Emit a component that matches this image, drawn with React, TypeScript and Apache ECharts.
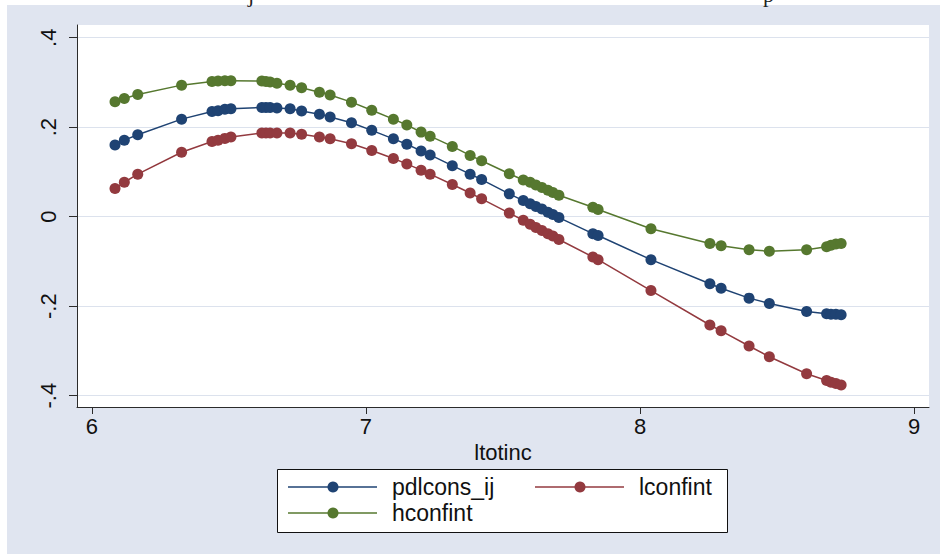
import { useEffect, useRef } from "react";
import * as echarts from "echarts";

// ---- data ----
const xValues = [
  6.084, 6.118, 6.167, 6.327, 6.438, 6.46, 6.485, 6.507, 6.62, 6.635, 6.65, 6.675,
  6.723, 6.765, 6.83, 6.869, 6.947, 7.021, 7.1, 7.149, 7.201, 7.234, 7.315, 7.38,
  7.422, 7.523, 7.574, 7.599, 7.62, 7.642, 7.664, 7.682, 7.704, 7.828, 7.847, 8.04,
  8.255, 8.296, 8.398, 8.472, 8.608, 8.681, 8.697, 8.715, 8.734,
];
const pdlcons = [
  0.16, 0.171, 0.183, 0.218, 0.235, 0.237, 0.24, 0.241, 0.244, 0.244, 0.244, 0.243,
  0.241, 0.236, 0.229, 0.223, 0.21, 0.193, 0.174, 0.162, 0.147, 0.138, 0.114, 0.095,
  0.083, 0.051, 0.036, 0.029, 0.023, 0.017, 0.01, 0.005, -0.002, -0.038, -0.042, -0.096,
  -0.15, -0.16, -0.182, -0.194, -0.212, -0.217, -0.218, -0.218, -0.219,
];
const lconfint = [
  0.063, 0.077, 0.095, 0.144, 0.168, 0.171, 0.175, 0.178, 0.187, 0.187, 0.187, 0.187,
  0.187, 0.184, 0.178, 0.174, 0.163, 0.148, 0.13, 0.118, 0.104, 0.095, 0.072, 0.053,
  0.04, 0.008, -0.008, -0.017, -0.024, -0.031, -0.038, -0.043, -0.051, -0.09, -0.096, -0.165,
  -0.242, -0.255, -0.289, -0.313, -0.351, -0.366, -0.37, -0.373, -0.376,
];
const hconfint = [
  0.257, 0.264, 0.273, 0.294, 0.302, 0.303, 0.304, 0.304, 0.303, 0.302, 0.301, 0.298,
  0.294, 0.288, 0.278, 0.272, 0.256, 0.238, 0.218, 0.205, 0.189, 0.18, 0.157, 0.137,
  0.125, 0.096, 0.082, 0.077, 0.071, 0.065, 0.059, 0.054, 0.048, 0.021, 0.016, -0.027,
  -0.06, -0.065, -0.074, -0.077, -0.074, -0.067, -0.064, -0.061, -0.06,
];
const seriesNames = ["pdlcons_ij", "lconfint", "hconfint"];
const seriesColors = ["#1f4373", "#933a3f", "#56782f"];
const xTicks = [6, 7, 8, 9];
const yTicks = [-0.4, -0.2, 0, 0.2, 0.4];
const xTitle = "ltotinc";
const topFragments = ["j", "p"];

const AXIS_FONT = "'Liberation Sans Narrow', 'Liberation Sans', Arial, sans-serif";
const LEGEND_FONT = "'Liberation Sans', Arial, sans-serif";
const BG = "#e0e5f0";
const GRID = "#dce2ed";
const AXIS = "#2b2b2b";

function fmtY(v: number): string {
  if (v === 0) return "0";
  return v.toFixed(1).replace("0.", ".");
}

export default function App() {
  const ref = useRef<HTMLDivElement>(null);

  useEffect(() => {
    if (!ref.current) return;
    const chart = echarts.init(ref.current, null, { renderer: "svg" });

    const allSeries = [pdlcons, lconfint, hconfint];

    const legendItems: any[] = [];
    const legendPos = [
      { lx: 288, ty: 487 },
      { lx: 535, ty: 487 },
      { lx: 288, ty: 513 },
    ];
    seriesNames.forEach((name, i) => {
      const p = legendPos[i];
      legendItems.push(
        {
          type: "line",
          shape: { x1: p.lx, y1: p.ty, x2: p.lx + 89, y2: p.ty },
          style: { stroke: seriesColors[i], lineWidth: 1.5 },
        },
        {
          type: "circle",
          shape: { cx: p.lx + 45, cy: p.ty, r: 5.5 },
          style: { fill: seriesColors[i] },
        },
        {
          type: "text",
          x: p.lx + 104,
          y: p.ty,
          style: {
            text: name,
            fontSize: 23,
            fontFamily: LEGEND_FONT,
            fill: "#111",
            verticalAlign: "middle",
            textAlign: "left",
          },
        }
      );
    });

    const option: any = {
      animation: false,
      backgroundColor: BG,
      grid: {
        left: 77,
        top: 25,
        width: 852,
        height: 382,
        show: true,
        backgroundColor: "#ffffff",
        borderWidth: 0,
      },
      xAxis: {
        type: "value",
        min: 5.9453,
        max: 9.0547,
        name: xTitle,
        nameLocation: "middle",
        nameGap: 23,
        nameTextStyle: { fontSize: 22, fontFamily: AXIS_FONT, color: "#111" },
        axisLine: { show: true, onZero: false, lineStyle: { color: AXIS, width: 1 } },
        axisTick: { show: true, length: 7, customValues: xTicks, lineStyle: { color: AXIS } },
        axisLabel: {
          customValues: xTicks,
          margin: 8,
          fontSize: 22,
          fontFamily: AXIS_FONT,
          color: "#111",
        },
        splitLine: { show: false },
      },
      yAxis: {
        type: "value",
        min: -0.4253,
        max: 0.4284,
        axisLine: { show: true, onZero: false, lineStyle: { color: AXIS, width: 1 } },
        axisTick: { show: true, length: 8, customValues: yTicks, lineStyle: { color: AXIS } },
        axisLabel: {
          customValues: yTicks,
          rotate: 90,
          margin: 18,
          fontSize: 22,
          fontFamily: AXIS_FONT,
          color: "#111",
          formatter: (v: number) => fmtY(v),
        },
        splitLine: { show: true, lineStyle: { color: GRID, width: 1.2 } },
      },
      series: seriesNames.map((name, i) => ({
        name,
        type: "line",
        data: xValues.map((x, k) => [x, allSeries[i][k]]),
        symbol: "circle",
        symbolSize: 11,
        showSymbol: true,
        itemStyle: { color: seriesColors[i] },
        lineStyle: { color: seriesColors[i], width: 1.5 },
        z: 3,
      })),
      graphic: [
        { type: "rect", shape: { x: 0, y: 0, width: 940, height: 5 }, style: { fill: "#fff" }, silent: true },
        { type: "rect", shape: { x: 0, y: 0, width: 7, height: 554 }, style: { fill: "#fff" }, silent: true },
        {
          type: "text",
          x: 248,
          y: 5,
          style: { text: topFragments[0], fontSize: 22, fontFamily: "'Liberation Serif', serif", fill: "#222", verticalAlign: "bottom" },
        },
        {
          type: "text",
          x: 763,
          y: 5,
          style: { text: topFragments[1], fontSize: 22, fontFamily: "'Liberation Serif', serif", fill: "#222", verticalAlign: "bottom" },
        },
        {
          type: "rect",
          shape: { x: 277.5, y: 469.5, width: 450, height: 63 },
          style: { fill: "#fff", stroke: "#111", lineWidth: 1 },
        },
        ...legendItems,
      ],
    };

    chart.setOption(option);
    return () => chart.dispose();
  }, []);

  return (
    <div
      ref={ref}
      style={{ position: "fixed", left: 0, top: 0, width: 940, height: 554 }}
    />
  );
}
